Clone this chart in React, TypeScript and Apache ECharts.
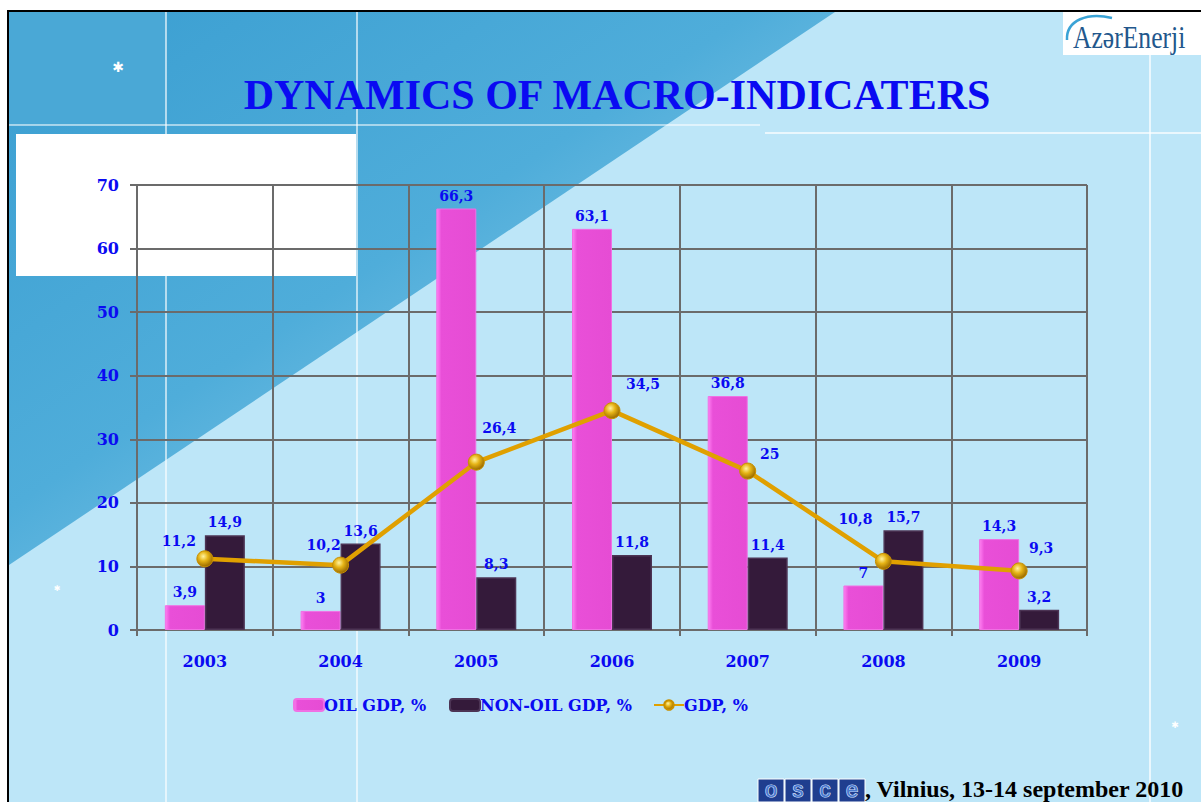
import React, { useEffect, useRef } from "react";
import * as echarts from "echarts";

const years = ["2003", "2004", "2005", "2006", "2007", "2008", "2009"];
const oilGdp = [3.9, 3, 66.3, 63.1, 36.8, 7, 14.3];
const nonOilGdp = [14.9, 13.6, 8.3, 11.8, 11.4, 15.7, 3.2];
const gdp = [11.2, 10.2, 26.4, 34.5, 25, 10.8, 9.3];
const seriesNames = ["OIL GDP, %", "NON-OIL GDP, %", "GDP, %"];
const yMin = 0;
const yMax = 70;
const yStep = 10;
const titleText = "DYNAMICS OF MACRO-INDICATERS";
const footerText = ", Vilnius, 13-14 september 2010";
const logoText = "AzərEnerji";
const osceLetters = ["o", "s", "c", "e"];

// label placement (style only)
const gdpLabelOffsets: [number, number][] = [
  [-26, -18], [-17, -20], [23, -34], [31, -27], [22, -17], [-28, -42], [22, -23],
];

const BLUE = "#0A0AF2";
const GRIDC = "#6B6B6B";
const fmt = (v: number) => String(v).replace(".", ",");

export default function App() {
  const ref = useRef<HTMLDivElement>(null);
  useEffect(() => {
    if (!ref.current) return;
    const chart = echarts.init(ref.current, null, { renderer: "svg" });
    const labelFont = { fontFamily: "DejaVu Serif", fontWeight: "bold" as const, color: BLUE };

    const graphic: any[] = [
      // page border
      { type: "rect", shape: { x: 7, y: 10, width: 1194, height: 792 }, style: { fill: "#000" }, z: -100, silent: true },
      { type: "rect", shape: { x: 9, y: 12, width: 1192, height: 790 }, style: { fill: "#BDE6F8" }, z: -99, silent: true },
      // dark triangle
      {
        type: "polygon", shape: { points: [[9, 12], [835, 12], [9, 565]] },
        style: {
          fill: new echarts.graphic.LinearGradient(0, 0, 0.75, 0.75, [
            { offset: 0, color: "#3A9ED1" },
            { offset: 0.6, color: "#4FADDA" },
            { offset: 1, color: "#86C9E8" },
          ]),
        },
        z: -98, silent: true,
      },
      // dotted square
      { type: "rect", shape: { x: 9, y: 12, width: 157, height: 113 }, style: { fill: "#4AA8D6" }, z: -97, silent: true },
      // white lines
      { type: "line", shape: { x1: 166, y1: 12, x2: 166, y2: 802 }, style: { stroke: "rgba(255,255,255,0.8)", lineWidth: 1.5 }, z: -96, silent: true },
      { type: "line", shape: { x1: 357, y1: 12, x2: 357, y2: 802 }, style: { stroke: "rgba(255,255,255,0.8)", lineWidth: 1.5 }, z: -96, silent: true },
      { type: "line", shape: { x1: 9, y1: 125, x2: 760, y2: 125 }, style: { stroke: "rgba(255,255,255,0.7)", lineWidth: 1.5 }, z: -96, silent: true },
      { type: "line", shape: { x1: 765, y1: 133, x2: 1201, y2: 133 }, style: { stroke: "rgba(255,255,255,0.9)", lineWidth: 1.5 }, z: -96, silent: true },
      { type: "line", shape: { x1: 1150, y1: 55, x2: 1150, y2: 802 }, style: { stroke: "rgba(255,255,255,0.9)", lineWidth: 1.5 }, z: -96, silent: true },
      // white box
      { type: "rect", shape: { x: 16, y: 134, width: 340, height: 142 }, style: { fill: "#FFFFFF" }, z: -95, silent: true },
      // sparkles
      { type: "text", x: 118, y: 67, style: { text: "✱", fill: "#fff", font: "bold 14px 'DejaVu Sans'", align: "center", verticalAlign: "middle" }, z: -94, silent: true },
      { type: "text", x: 57, y: 588, style: { text: "✱", fill: "#fff", font: "8px 'DejaVu Sans'", align: "center", verticalAlign: "middle" }, z: -94, silent: true },
      { type: "text", x: 1175, y: 725, style: { text: "✱", fill: "#fff", font: "9px 'DejaVu Sans'", align: "center", verticalAlign: "middle" }, z: -94, silent: true },
      // title
      {
        type: "text", x: 617, y: 95,
        style: { text: titleText, fill: "#0A0AF2", font: "bold 42px 'Liberation Serif'", align: "center", verticalAlign: "middle" },
        z: 10, silent: true,
      },
      // logo
      { type: "rect", shape: { x: 1063, y: 12, width: 138, height: 43 }, style: { fill: "#FFFFFF" }, z: 10, silent: true },
      {
        type: "bezierCurve",
        shape: { x1: 1067, y1: 40, cpx1: 1066, cpy1: 20, cpx2: 1088, cpy2: 12, x2: 1112, y2: 18 },
        style: { stroke: "#3AA3D6", lineWidth: 2.5, fill: null },
        z: 11, silent: true,
      },
      {
        type: "text", x: 1073, y: 37, scaleX: 0.8,
        style: { text: logoText, fill: "#22578C", font: "32px 'Liberation Serif'", align: "left", verticalAlign: "middle" },
        z: 11, silent: true,
      },
      // footer
      ...osceLetters.flatMap((ch, i) => [
        { type: "rect", shape: { x: 758 + i * 27, y: 779, width: 26, height: 23 }, style: { fill: "#1F3E8F", stroke: "#FFFFFF", lineWidth: 1 }, z: 10, silent: true },
        {
          type: "text", x: 771 + i * 27, y: 789,
          style: { text: ch, fill: "#4A7AD0", stroke: "#DDE8FF", lineWidth: 1.2, font: "22px 'Liberation Sans'", align: "center", verticalAlign: "middle" },
          z: 11, silent: true,
        },
      ]),
      {
        type: "text", x: 865, y: 789,
        style: { text: footerText, fill: "#000000", font: "bold 24px 'Liberation Serif'", align: "left", verticalAlign: "middle" },
        z: 10, silent: true,
      },
    ];

    const legendBase = {
      orient: "horizontal" as const,
      top: 697,
      padding: 0,
      itemWidth: 30,
      itemHeight: 12,
      itemGap: 0,
      textStyle: { ...labelFont, fontSize: 16, padding: [0, 0, 0, -5] },
    };

    chart.setOption({
      animation: false,
      backgroundColor: "transparent",
      graphic,
      grid: { left: 137, right: 114, top: 185, bottom: 172 },
      legend: [
        { ...legendBase, left: 293, data: [seriesNames[0]] },
        { ...legendBase, left: 449, data: [seriesNames[1]] },
        { ...legendBase, left: 653, data: [seriesNames[2]] },
      ],
      xAxis: {
        type: "category",
        data: years,
        boundaryGap: true,
        axisLine: { lineStyle: { color: GRIDC, width: 2 } },
        axisTick: { show: true, length: 6, lineStyle: { color: GRIDC, width: 2 } },
        splitLine: { show: true, interval: 0, lineStyle: { color: GRIDC, width: 2 } },
        axisLabel: { ...labelFont, fontSize: 16, margin: 23 },
      },
      yAxis: {
        type: "value",
        min: yMin,
        max: yMax,
        interval: yStep,
        axisLine: { show: true, lineStyle: { color: GRIDC, width: 2 } },
        axisTick: { show: true, length: 7, lineStyle: { color: GRIDC, width: 2 } },
        splitLine: { show: true, lineStyle: { color: GRIDC, width: 2 } },
        axisLabel: { ...labelFont, fontSize: 16, margin: 18 },
      },
      series: [
        {
          name: seriesNames[0],
          type: "bar",
          data: oilGdp,
          barWidth: 40,
          barGap: "0%",
          itemStyle: {
            color: new echarts.graphic.LinearGradient(0, 0, 1, 0, [
              { offset: 0, color: "#FF80F2" },
              { offset: 0.12, color: "#E94FD8" },
              { offset: 1, color: "#E64CD4" },
            ]),
            borderColor: "#F070E4",
            borderWidth: 1,
          },
          label: { show: true, position: "top", distance: 6, ...labelFont, fontSize: 14, formatter: (p: any) => fmt(p.value) },
        },
        {
          name: seriesNames[1],
          type: "bar",
          data: nonOilGdp,
          barWidth: 40,
          barGap: "0%",
          itemStyle: { color: "#341A3A", borderColor: "#4C3454", borderWidth: 1.5 },
          label: { show: true, position: "top", distance: 6, ...labelFont, fontSize: 14, formatter: (p: any) => fmt(p.value) },
        },
        {
          name: seriesNames[2],
          type: "line",
          data: gdp.map((v, i) => ({ value: v, label: { offset: gdpLabelOffsets[i] } })),
          symbol: "circle",
          symbolSize: 16,
          lineStyle: { color: "#E0A000", width: 4.5 },
          itemStyle: {
            color: new echarts.graphic.RadialGradient(0.4, 0.35, 0.65, [
              { offset: 0, color: "#FFF3A0" },
              { offset: 0.45, color: "#E6B416" },
              { offset: 1, color: "#9A6A00" },
            ]),
            borderColor: "#C89000",
            borderWidth: 1,
          },
          label: { show: true, position: "inside", ...labelFont, fontSize: 14, formatter: (p: any) => fmt(p.value) },
          z: 5,
        },
      ],
    });
    return () => chart.dispose();
  }, []);
  return <div ref={ref} style={{ position: "absolute", left: 0, top: 0, width: 1201, height: 802 }} />;
}
